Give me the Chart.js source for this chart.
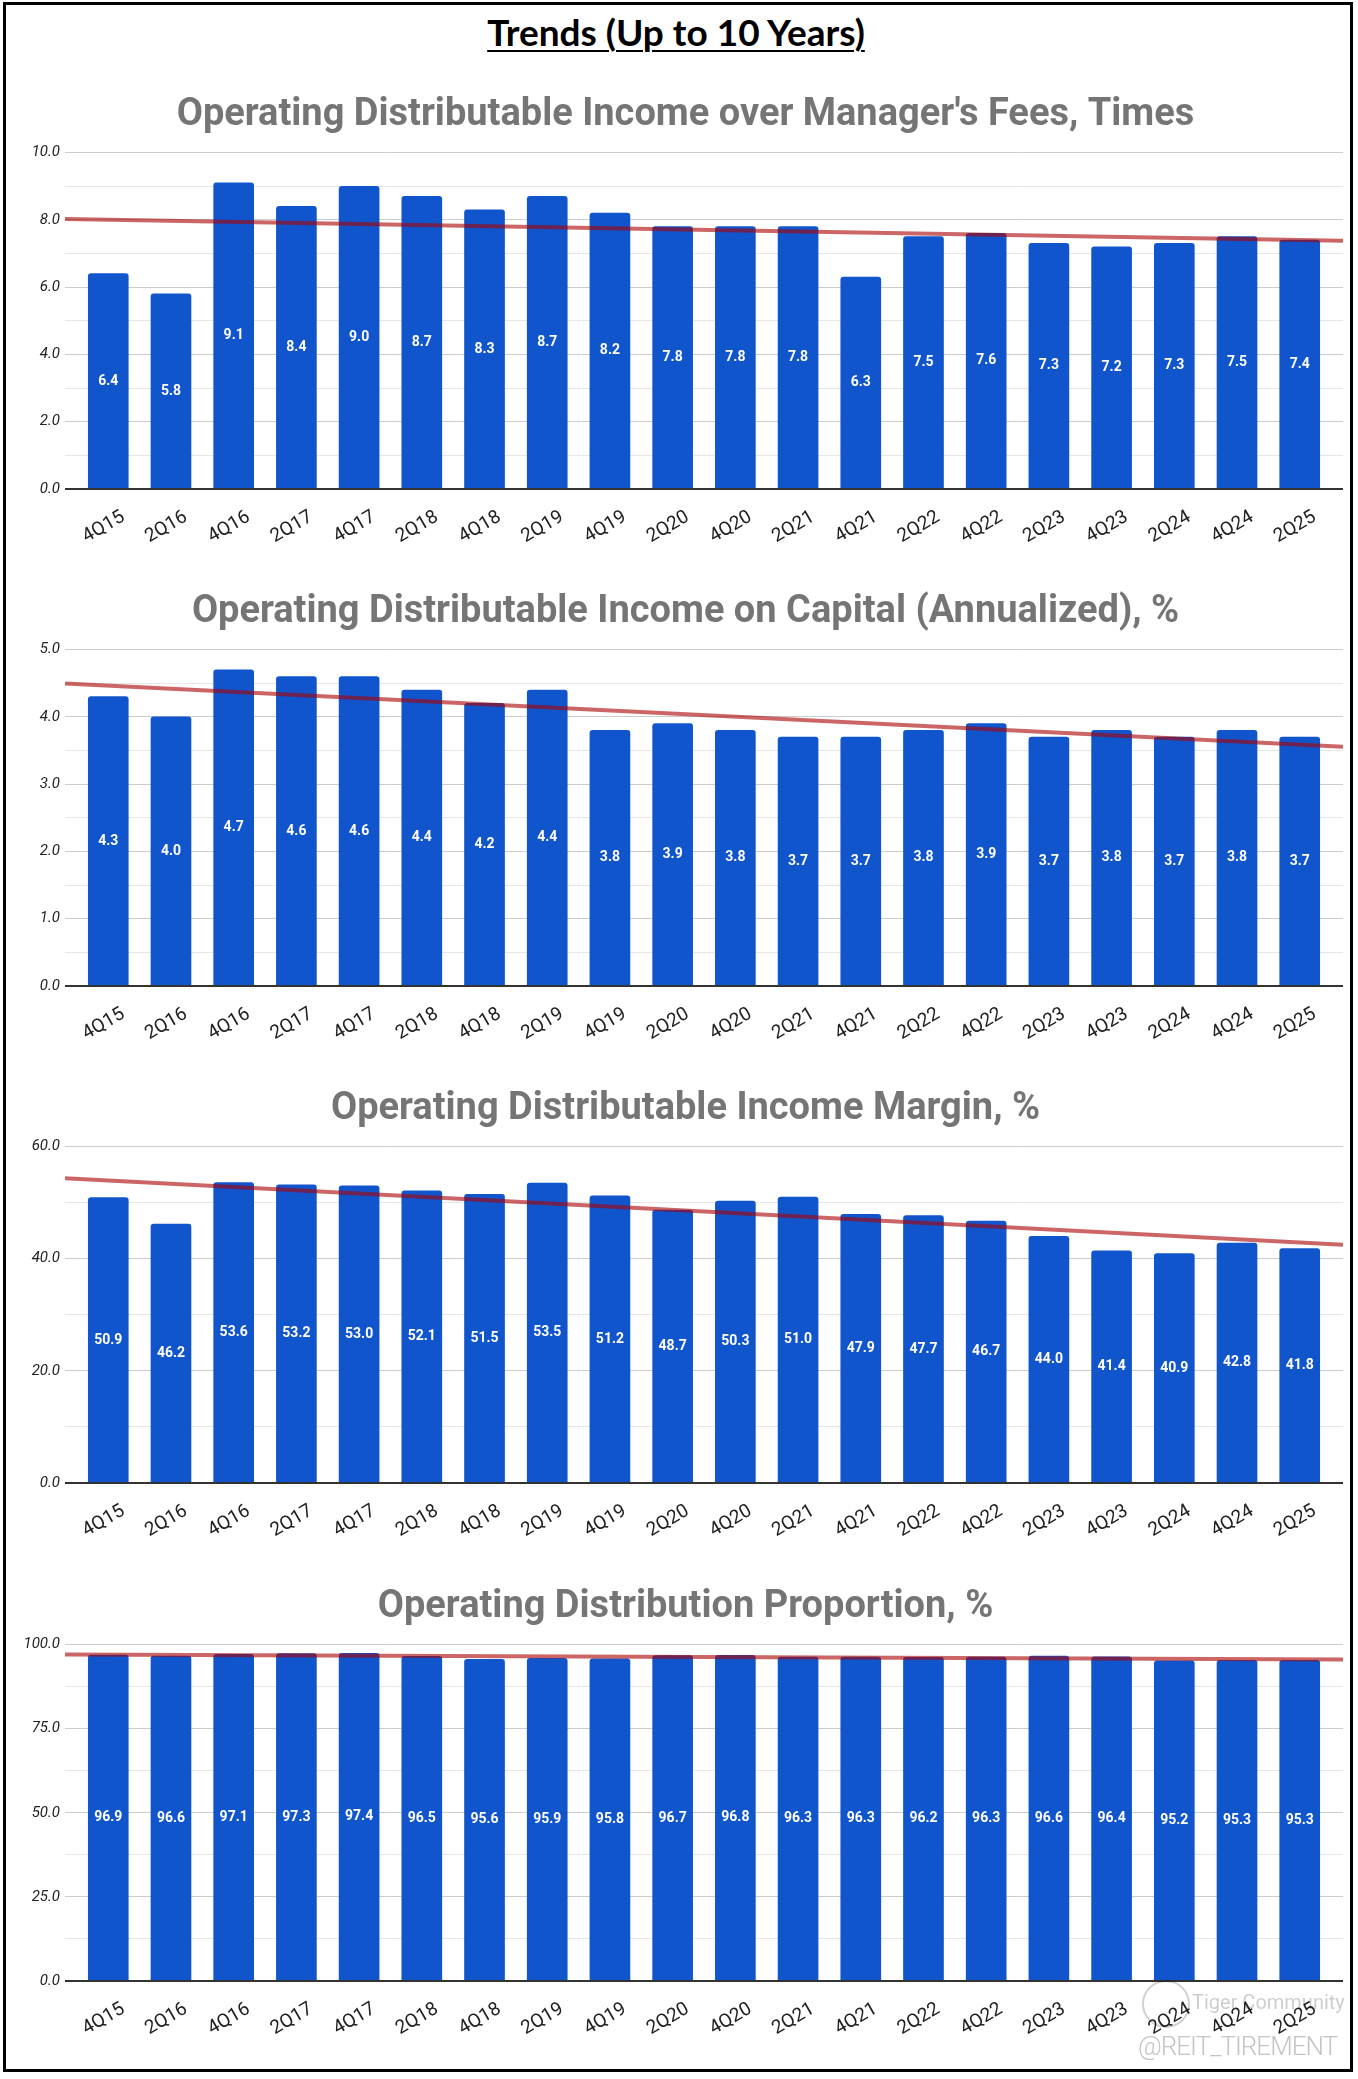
<!DOCTYPE html>
<html lang="en">
<head>
    <meta charset="UTF-8">
    <title>Trends (Up to 10 Years)</title>
    <script src="https://cdn.jsdelivr.net/npm/chart.js@4.4.1/dist/chart.umd.min.js"></script>
    <style>
        html, body { margin: 0; padding: 0; background: #fff; }
        body { width: 1358px; height: 2079px; position: relative; overflow: hidden; font-family: Roboto, sans-serif; }
        .frame { position: absolute; left: 3px; top: 2px; width: 1350px; height: 2070px; border: 3px solid #000; box-sizing: border-box; }
        .main-title { position: absolute; left: 0; top: 11px; width: 1352px; text-align: center; font: bold 37px Lato, sans-serif; line-height: 42px; color: #000; text-decoration: underline; text-underline-offset: 4px; text-decoration-thickness: 2px; }
        .chart-box { position: absolute; left: 6px; width: 1342px; height: 497px; }
        .wm-logo { position: absolute; left: 1142px; top: 1980px; width: 44px; height: 44px; border: 2px solid rgba(0,0,0,0.18); border-radius: 50%; }
        .wm-tiger { position: absolute; left: 1192px; top: 1990px; font: 20px Roboto, sans-serif; color: rgba(0,0,0,0.2); }
        .wm-user { position: absolute; left: 1138px; top: 2031px; font: 300 26px Roboto, sans-serif; color: #c4c4c4; letter-spacing: -1px; }
    </style>
</head>
<body>
    <div class="frame"></div>
    <div class="main-title">Trends (Up to 10 Years)</div>

    <div class="chart-box" style="top:69px"><canvas id="feeChart" width="1342" height="497"></canvas></div>
    <div class="chart-box" style="top:566px"><canvas id="capitalChart" width="1342" height="497"></canvas></div>
    <div class="chart-box" style="top:1063px"><canvas id="marginChart" width="1342" height="497"></canvas></div>
    <div class="chart-box" style="top:1561px"><canvas id="proportionChart" width="1342" height="497"></canvas></div>

    <div class="wm-logo"></div>
    <div class="wm-tiger">Tiger Community</div>
    <div class="wm-user">@REIT_TIREMENT</div>

    <script>
        // Data
        const quarters = ['4Q15', '2Q16', '4Q16', '2Q17', '4Q17', '2Q18', '4Q18', '2Q19', '4Q19', '2Q20',
                          '4Q20', '2Q21', '4Q21', '2Q22', '4Q22', '2Q23', '4Q23', '2Q24', '4Q24', '2Q25'];

        const feeCover = [6.4, 5.8, 9.1, 8.4, 9.0, 8.7, 8.3, 8.7, 8.2, 7.8,
                          7.8, 7.8, 6.3, 7.5, 7.6, 7.3, 7.2, 7.3, 7.5, 7.4];
        const capitalReturn = [4.3, 4.0, 4.7, 4.6, 4.6, 4.4, 4.2, 4.4, 3.8, 3.9,
                               3.8, 3.7, 3.7, 3.8, 3.9, 3.7, 3.8, 3.7, 3.8, 3.7];
        const incomeMargin = [50.9, 46.2, 53.6, 53.2, 53.0, 52.1, 51.5, 53.5, 51.2, 48.7,
                              50.3, 51.0, 47.9, 47.7, 46.7, 44.0, 41.4, 40.9, 42.8, 41.8];
        const distProportion = [96.9, 96.6, 97.1, 97.3, 97.4, 96.5, 95.6, 95.9, 95.8, 96.7,
                                96.8, 96.3, 96.3, 96.2, 96.3, 96.6, 96.4, 95.2, 95.3, 95.3];

        const chartTitles = [
            "Operating Distributable Income over Manager's Fees, Times",
            'Operating Distributable Income on Capital (Annualized), %',
            'Operating Distributable Income Margin, %',
            'Operating Distribution Proportion, %'
        ];
        const axisMax = [10, 5, 60, 100];
        const axisStep = [2, 1, 20, 25];

        // white value labels in the middle of each bar + dark baseline
        const barLabels = {
            id: 'barLabels',
            afterLayout(chart) {
                // let wide tick labels like "100.0" spill left past the padding instead of being clipped
                chart.scales.y.left -= 20;
            },
            afterDatasetsDraw(chart) {
                const ctx = chart.ctx;
                const area = chart.chartArea;
                const y0 = chart.scales.y.getPixelForValue(0);
                ctx.save();
                ctx.strokeStyle = '#333';
                ctx.lineWidth = 2;
                ctx.beginPath();
                ctx.moveTo(area.left, y0);
                ctx.lineTo(area.right, y0);
                ctx.stroke();

                const meta = chart.getDatasetMeta(1);
                const ds = chart.data.datasets[1];
                ctx.fillStyle = '#fff';
                ctx.font = 'bold 14px Roboto';
                ctx.textAlign = 'center';
                ctx.textBaseline = 'middle';
                meta.data.forEach((bar, i) => {
                    ctx.fillText(ds.data[i].y.toFixed(1), bar.x, (bar.y + bar.base) / 2);
                });
                ctx.restore();
            }
        };

        function makeChart(id, title, values, yMax, step) {
            const n = values.length;
            const xMin = -0.69, xMax = n - 1 + 0.69;

            // linear trendline (least squares), like the sheet's trendline
            const mx = (n - 1) / 2;
            const my = values.reduce((a, b) => a + b, 0) / n;
            let sxy = 0, sxx = 0;
            values.forEach((v, i) => { sxy += (i - mx) * (v - my); sxx += (i - mx) * (i - mx); });
            const slope = sxy / sxx;
            const trend = x => my + slope * (x - mx);

            return new Chart(document.getElementById(id), {
                type: 'bar',
                data: {
                    datasets: [{
                        type: 'line',
                        data: [{ x: xMin, y: trend(xMin) }, { x: xMax, y: trend(xMax) }],
                        borderColor: 'rgba(170, 0, 0, 0.6)',
                        borderWidth: 4,
                        pointRadius: 0,
                        order: 0
                    }, {
                        type: 'bar',
                        data: values.map((v, i) => ({ x: i, y: v })),
                        backgroundColor: '#1155cc',
                        barThickness: 40,
                        borderRadius: 3,
                        order: 1
                    }]
                },
                options: {
                    responsive: false,
                    animation: false,
                    layout: { padding: { left: 22, right: 5, top: 0, bottom: 0 } },
                    plugins: {
                        legend: { display: false },
                        tooltip: { enabled: false },
                        title: {
                            display: true,
                            text: title,
                            color: '#757575',
                            font: { family: 'Roboto', size: 38, weight: 'bold' },
                            padding: { top: 24, bottom: 14 }
                        }
                    },
                    scales: {
                        x: {
                            type: 'linear',
                            offset: false,
                            min: xMin,
                            max: xMax,
                            grid: { display: false },
                            border: { display: false },
                            ticks: {
                                stepSize: 1,
                                includeBounds: false,
                                autoSkip: false,
                                maxRotation: 30,
                                minRotation: 30,
                                labelOffset: 15,
                                padding: 9,
                                color: '#222',
                                font: { family: 'Roboto', size: 19 },
                                callback: v => quarters[v] ?? ''
                            },
                            afterFit: s => { s.height = 77; }
                        },
                        y: {
                            min: 0,
                            max: yMax,
                            border: { display: false },
                            grid: {
                                drawTicks: false,
                                color: c => c.tick.value === 0 ? 'rgba(0,0,0,0)' :
                                    (c.tick.value % step === 0 ? '#cccccc' : '#e6e6e6')
                            },
                            ticks: {
                                stepSize: step / 2,
                                padding: 5,
                                color: '#222',
                                font: { family: 'Roboto', size: 15, style: 'italic' },
                                callback: v => v % step === 0 ? v.toFixed(1) : ''
                            },
                            afterFit: s => { s.width = 37; }
                        }
                    }
                },
                plugins: [barLabels]
            });
        }

        makeChart('feeChart', chartTitles[0], feeCover, axisMax[0], axisStep[0]);
        makeChart('capitalChart', chartTitles[1], capitalReturn, axisMax[1], axisStep[1]);
        makeChart('marginChart', chartTitles[2], incomeMargin, axisMax[2], axisStep[2]);
        makeChart('proportionChart', chartTitles[3], distProportion, axisMax[3], axisStep[3]);
    </script>
</body>
</html>
